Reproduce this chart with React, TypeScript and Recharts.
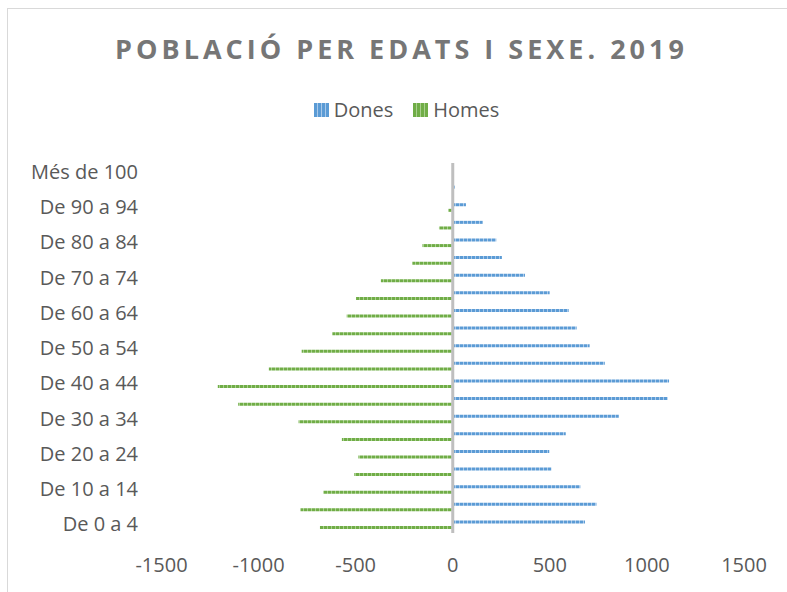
import React from 'react';
import { BarChart, Bar, XAxis, YAxis, Legend, ReferenceLine } from 'recharts';

const categories = [
  'De 0 a 4', 'De 5 a 9', 'De 10 a 14', 'De 15 a 19', 'De 20 a 24', 'De 25 a 29',
  'De 30 a 34', 'De 35 a 39', 'De 40 a 44', 'De 45 a 49', 'De 50 a 54', 'De 55 a 59',
  'De 60 a 64', 'De 65 a 69', 'De 70 a 74', 'De 75 a 79', 'De 80 a 84', 'De 85 a 89',
  'De 90 a 94', 'De 95 a 99', 'Més de 100',
];
const dones = [681, 740, 657, 508, 497, 582, 855, 1107, 1114, 783, 705, 638, 597, 499, 372, 253, 224, 154, 68, 10, 0];
const homes = [-684, -784, -667, -507, -486, -571, -794, -1105, -1210, -947, -778, -620, -546, -498, -370, -208, -156, -71, -22, 0, 0];
const xTicks = [-1500, -1000, -500, 0, 500, 1000, 1500];

const data = categories.map((edat, i) => ({ edat, dones: dones[i], homes: homes[i] }));

const FONT = '"Open Sans", "Noto Sans", sans-serif';
const TEXT = '#595959';
const BLUE = '#5B9BD5';
const BLUE_LIGHT = '#A9C9EA';
const GREEN = '#70AD47';
const GREEN_LIGHT = '#A9D08E';

const swatch = (dark: string, light: string) => ({
  display: 'inline-block',
  width: 15,
  height: 14,
  marginRight: 5,
  background: `repeating-linear-gradient(90deg, ${dark} 0px, ${dark} 3px, ${light} 3px, ${light} 4px)`,
});

const renderLegend = () => (
  <div style={{ display: 'flex', justifyContent: 'center', alignItems: 'center', paddingLeft: 26, fontFamily: FONT, fontSize: 20, color: TEXT, lineHeight: '22px' }}>
    <span style={{ display: 'flex', alignItems: 'center', marginRight: 20 }}>
      <span style={swatch(BLUE, BLUE_LIGHT)} />Dones
    </span>
    <span style={{ display: 'flex', alignItems: 'center' }}>
      <span style={swatch(GREEN, GREEN_LIGHT)} />Homes
    </span>
  </div>
);

const App: React.FC = () => {
  return (
    <div style={{ position: 'absolute', left: 0, top: 0, width: 787, height: 592, overflow: 'hidden', background: '#fff' }}>
      <div style={{ position: 'absolute', left: 7, top: 8, width: 820, height: 620, border: '1.5px solid #D9D9D9' }} />
      <div
        style={{
          position: 'absolute', left: 8, top: 34.5, width: 787, textAlign: 'center',
          fontFamily: FONT, fontWeight: 700, fontSize: 27, lineHeight: '27px',
          letterSpacing: 4, color: '#767676',
        }}
      >
        POBLACIÓ PER EDATS I SEXE. 2019
      </div>
      <div style={{ position: 'absolute', left: 0, top: 0 }}>
        <BarChart
          width={787}
          height={592}
          data={data}
          layout="vertical"
          barSize={3}
          barGap={2.6}
          margin={{ top: 163, right: 43, bottom: 19, left: 11.5 }}
        >
          <defs>
            <pattern id="ptBlue" width="4" height="3" patternUnits="userSpaceOnUse">
              <rect x="0" y="0" width="4" height="3" fill={BLUE_LIGHT} />
              <rect x="0" y="0" width="3" height="3" fill={BLUE} />
            </pattern>
            <pattern id="ptGreen" width="4" height="3" patternUnits="userSpaceOnUse">
              <rect x="0" y="0" width="4" height="3" fill={GREEN_LIGHT} />
              <rect x="0" y="0" width="3" height="3" fill={GREEN} />
            </pattern>
          </defs>
          <XAxis
            type="number"
            domain={[-1500, 1500]}
            ticks={xTicks}
            tickFormatter={(v) => String(v)}
            axisLine={false}
            tickLine={false}
            tickSize={0}
            tickMargin={25}
            height={40}
            tick={{ fill: TEXT, fontSize: 20, fontFamily: FONT }}
          />
          <YAxis
            type="category"
            dataKey="edat"
            reversed
            interval={1}
            axisLine={false}
            tickLine={false}
            tickSize={0}
            tickMargin={23.5}
            width={150}
            tick={{ fill: TEXT, fontSize: 20, fontFamily: FONT }}
          />
          <Legend verticalAlign="middle" content={renderLegend} wrapperStyle={{ top: 99, left: 0, width: 787 }} />
          <Bar dataKey="dones" name="Dones" fill="url(#ptBlue)" isAnimationActive={false} />
          <Bar dataKey="homes" name="Homes" fill="url(#ptGreen)" isAnimationActive={false} />
          <ReferenceLine x={0} stroke="#BFBFBF" strokeWidth={3} />
        </BarChart>
      </div>
    </div>
  );
};

export default App;
